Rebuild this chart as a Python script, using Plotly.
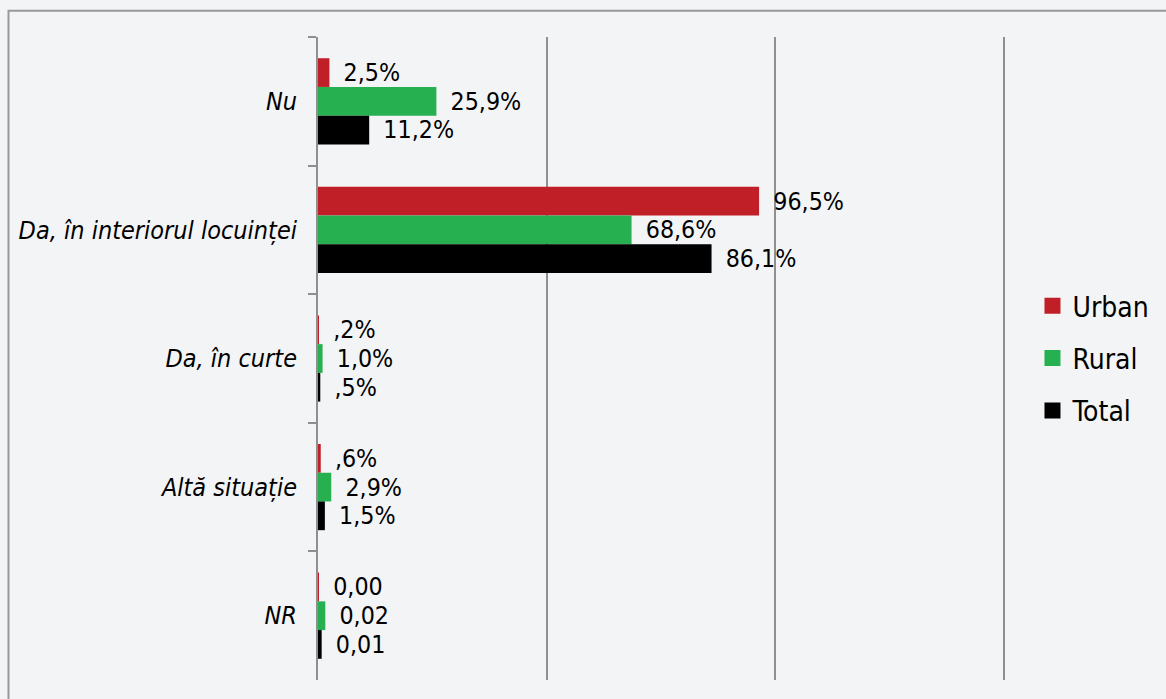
import plotly.graph_objects as go

categories = ["Nu", "Da, în interiorul locuinței", "Da, în curte", "Altă situație", "NR"]
series_names = ["Urban", "Rural", "Total"]
urban_values = [2.5, 96.5, 0.2, 0.6, 0.1]
rural_values = [25.9, 68.6, 1.0, 2.9, 1.6]
total_values = [11.2, 86.1, 0.5, 1.5, 0.8]
urban_labels = ["2,5%", "96,5%", ",2%", ",6%", "0,00"]
rural_labels = ["25,9%", "68,6%", "1,0%", "2,9%", "0,02"]
total_labels = ["11,2%", "86,1%", ",5%", "1,5%", "0,01"]
colors = ["#c01f27", "#26b050", "#000000"]

FONT = "DejaVu Sans Condensed, DejaVu Sans, sans-serif"

fig = go.Figure()
for name, vals, labels, col in zip(series_names,
                                   [urban_values, rural_values, total_values],
                                   [urban_labels, rural_labels, total_labels],
                                   colors):
    fig.add_trace(go.Bar(
        name=name, y=categories, x=vals, orientation="h",
        marker=dict(color=col, line=dict(width=0)),
        text=labels, texttemplate="\u2002%{text}", textposition="outside",
        textfont=dict(family=FONT, size=25, color="#000000"),
        cliponaxis=False, legendgroup=name, showlegend=False,
    ))
    # legend entry with a larger square swatch
    fig.add_trace(go.Scatter(
        name=name, x=[None], y=[None], mode="markers",
        marker=dict(symbol="square", size=16, color=col),
        legendgroup=name, showlegend=True, hoverinfo="skip",
    ))

fig.update_layout(
    width=1166, height=699,
    margin=dict(l=318, r=161, t=37, b=19),
    paper_bgcolor="#f3f4f6", plot_bgcolor="#f3f4f6",
    barmode="group", bargap=0.33, bargroupgap=0,
    font=dict(family=FONT, color="#000000"),
    legend=dict(
        x=1.04, xanchor="left", y=0.5, yanchor="middle",
        font=dict(family=FONT, size=28, color="#000000"),
        traceorder="grouped", tracegroupgap=13,
        bgcolor="rgba(0,0,0,0)",
    ),
    xaxis=dict(range=[0, 150.3], tickvals=[0, 50, 100, 150], showgrid=True,
               gridcolor="#8f8f8f", gridwidth=2, showticklabels=False,
               zeroline=False, showline=False, ticks=""),
    yaxis=dict(autorange="reversed", showline=True, linecolor="#8f8f8f", linewidth=2,
               ticks="outside", tickson="boundaries", ticklen=8, tickcolor="#8f8f8f",
               tickwidth=2, ticklabelstandoff=14,
               tickfont=dict(family=FONT, size=25, style="italic", color="#000000"),
               showgrid=False),
    shapes=[dict(type="rect", xref="paper", yref="paper",
                 x0=-0.4505, x1=1.6, y0=-0.2, y1=1.041,
                 line=dict(color="#999999", width=2), fillcolor="rgba(0,0,0,0)",
                 layer="below")],
)

fig.write_html(
    "out.html",
    config={"displayModeBar": False},
    post_script="document.body.style.margin='0';document.body.style.overflow='hidden';",
)
